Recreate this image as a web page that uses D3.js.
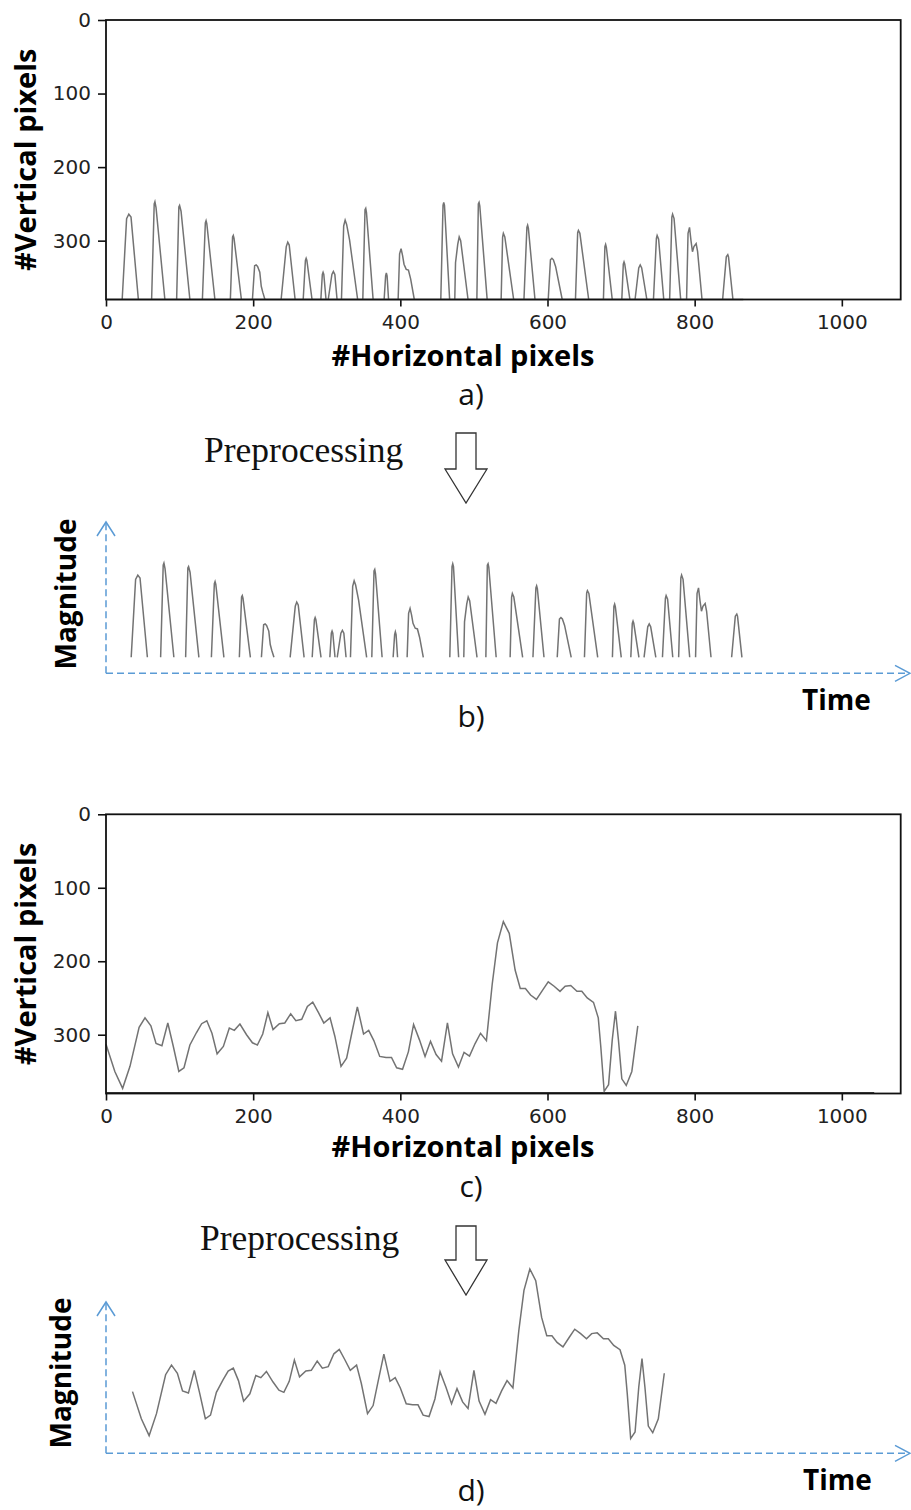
<!DOCTYPE html>
<html>
<head>
<meta charset="utf-8">
<script src="https://cdn.jsdelivr.net/npm/d3@7"></script>
<style>
  body { margin: 0; background: #fff; }
</style>
</head>
<body>
<svg width="911" height="1510"></svg>
<script>
// ticks of the two pixel plots
const xTicks = [0, 200, 400, 600, 800, 1000];
const yTicks = [0, 100, 200, 300];
const baseLevel = 380;
const baselineEndA = 866;
const baselineEndC = 1044;

// a) peaks, [horizontal px, vertical px]
const peaks = [
  [[22,380],[28,270],[31,264],[34,268],[44,380]],
  [[62,380],[65.5,250],[66.5,247],[68,255],[80,380]],
  [[96,380],[99,254],[100,252],[102,260],[114,380]],
  [[131,380],[135,276],[136,273],[137,277],[148,380]],
  [[169,380],[172,295],[173,293],[174,297],[184,380]],
  [[199,380],[202,334],[204,333],[206,335],[209,343],[211,362],[213,370],[216,380]],
  [[238,380],[245,308],[247,302],[249,306],[257,380]],
  [[268,380],[271,327],[272,324],[273,327],[280,380]],
  [[292,380],[294,346],[295,343],[296,346],[299,380]],
  [[302,380],[307,346],[309,342],[311,346],[314,380]],
  [[320,380],[323,280],[325,272],[327,278],[331,299],[342,380]],
  [[349,380],[352,258],[353,256],[354,262],[363,380]],
  [[378,380],[380,348],[381,344],[382,348],[384,380]],
  [[397,380],[399,318],[401,311],[403,320],[405,332],[408,339],[411,340],[414,352],[419,380]],
  [[455,380],[458,252],[459,248],[460,252],[467,380]],
  [[474,380],[475,330],[478,305],[480,295],[482,300],[492,380]],
  [[504,380],[506,250],[507,248],[508,253],[518,380]],
  [[537,380],[539,295],[540,290],[542,295],[554,380]],
  [[568,380],[572,282],[573,279],[574,283],[583,380]],
  [[601,380],[604,326],[606,324],[608,326],[611,335],[620,380]],
  [[638,380],[641,289],[642,286],[644,290],[656,380]],
  [[676,380],[678,308],[679,305],[680,309],[688,380]],
  [[701,380],[703,332],[704,329],[705,332],[712,380]],
  [[719,380],[724,337],[726,333],[728,337],[735,380]],
  [[744,380],[748,297],[749,293],[751,298],[758,380]],
  [[766,380],[769,268],[770,264],[772,270],[781,380]],
  [[789,380],[791,290],[793,282],[795,300],[797,315],[799,308],[802,304],[804,315],[810,380]],
  [[838,380],[843,322],[845,319],[846,322],[852,380]]
];

// c) contour trace
const trace = [
  [0,313],[12,350],[22.6,373],[32.6,343],[45,290],[53,277],[61,288],[68,312],[76,315],
  [84,284],[91.5,316],[99,350],[106,345],[114,314],[123,297],[130,285],[137,281],[144,298],
  [151,326],[159.5,316],[167.6,291],[174.4,294],[182,285.5],[191,300],[199,311],[205.7,314],
  [213,299],[220,270],[227,293],[235.6,285],[243,284],[251,271.5],[258,281],[266,279],
  [273.7,261.5],[281,255.6],[288.6,269.6],[296,284],[304.5,277],[311,302],[319.4,343],
  [327,332],[334,298],[341.6,262],[350,299],[357,294],[364,308],[372,329.5],[380.6,331],
  [388,331],[395,345],[403,347],[411,323],[418,286],[426,307],[433.6,329.5],[441,309],
  [448.6,327],[456,336],[464,284],[471,326],[479,344],[486.6,324],[494,329],[501.6,312],
  [509,298],[517,308],[525,230],[532,175],[540,146],[548,162],[556,212],[563,237],[570,237],
  [577,246],[585,252],[593.6,239],[601,228],[609,234],[617,241],[624,234],[631.6,233],
  [640,241],[646.6,241],[654,250],[662.5,256],[669,277],[672.4,316],[677,377],[683,368],
  [688,307],[692.4,268],[696.4,307],[701,360],[707,369],[714.6,350],[722.7,288]
];

const svg = d3.select('svg');
svg.append('rect').attr('width', 911).attr('height', 1510).attr('fill', '#fff');

const lineColor = '#737373';
const blue = '#5b9bd5';
const boldFont = '"Open Sans", sans-serif';

function pixelPlot(top, bottom, xLabelY) {
  const x = d3.scaleLinear().domain([0, 1080]).range([106, 900.7]);
  const y = d3.scaleLinear().domain([0, 380]).range([top, bottom]);
  const g = svg.append('g');

  const ax = g.append('g')
    .attr('transform', `translate(0,${bottom})`)
    .call(d3.axisBottom(x).tickValues(xTicks).tickFormat(d3.format('d')).tickSize(7).tickPadding(8));
  const ay = g.append('g')
    .attr('transform', 'translate(106,0)')
    .call(d3.axisLeft(y).tickValues(yTicks).tickFormat(d3.format('d')).tickSize(8).tickPadding(7));
  [ax, ay].forEach(a => {
    a.select('.domain').remove();
    a.selectAll('line').attr('stroke', '#111').attr('stroke-width', 1.6);
    a.selectAll('text')
      .attr('font-family', '"DejaVu Sans", sans-serif')
      .attr('font-size', 20)
      .attr('fill', '#222');
  });

  g.append('text')
    .attr('transform', `translate(36,${(top + bottom) / 2}) rotate(-90)`)
    .attr('text-anchor', 'middle')
    .attr('font-family', boldFont)
    .attr('font-weight', 'bold')
    .attr('font-size', 29)
    .text('#Vertical pixels');
  g.append('text')
    .attr('x', 463).attr('y', xLabelY)
    .attr('text-anchor', 'middle')
    .attr('font-family', boldFont)
    .attr('font-weight', 'bold')
    .attr('font-size', 29)
    .text('#Horizontal pixels');
  return { g, x, y };
}

function frame(p) {
  const [x0, x1] = p.x.range();
  const [y0, y1] = p.y.range();
  p.g.append('rect')
    .attr('x', x0).attr('y', y0)
    .attr('width', x1 - x0).attr('height', y1 - y0)
    .attr('fill', 'none').attr('stroke', '#111').attr('stroke-width', 1.8);
}

function dashedAxes(axisX, axisY, topY, rightX) {
  const g = svg.append('g').attr('stroke', blue).attr('fill', 'none').attr('stroke-width', 1.5);
  g.append('line').attr('x1', axisX).attr('x2', axisX).attr('y1', axisY).attr('y2', topY + 1)
    .attr('stroke-dasharray', '7,4');
  g.append('line').attr('x1', axisX).attr('x2', rightX - 1).attr('y1', axisY).attr('y2', axisY)
    .attr('stroke-dasharray', '7,4');
  g.append('path').attr('d', `M${axisX - 9},${topY + 14}L${axisX},${topY}L${axisX + 9},${topY + 14}`);
  g.append('path').attr('d', `M${rightX - 15},${axisY - 8}L${rightX},${axisY}L${rightX - 15},${axisY + 8}`);
}

function blockArrow(cx, top, shoulder, tip) {
  const d = `M${cx - 10},${top}H${cx + 10}V${shoulder}H${cx + 21}L${cx},${tip}L${cx - 21},${shoulder}H${cx - 10}Z`;
  svg.append('path').attr('d', d)
    .attr('fill', '#fff').attr('stroke', '#333').attr('stroke-width', 1.3);
}

function caption(txt, x, y) {
  svg.append('text').attr('x', x).attr('y', y)
    .attr('text-anchor', 'middle')
    .attr('font-family', boldFont)
    .attr('font-size', 30)
    .attr('fill', '#111')
    .text(txt);
}

function serifLabel(x, y) {
  svg.append('text').attr('x', x).attr('y', y)
    .attr('font-family', '"Liberation Serif", serif')
    .attr('font-size', 35.5)
    .attr('fill', '#111')
    .text('Preprocessing');
}

function magnitudeLabels(lx, ly, tx, ty) {
  svg.append('text')
    .attr('transform', `translate(${lx},${ly}) rotate(-90)`)
    .attr('text-anchor', 'middle')
    .attr('font-family', boldFont).attr('font-weight', 'bold').attr('font-size', 28)
    .text('Magnitude');
  svg.append('text').attr('x', tx).attr('y', ty)
    .attr('font-family', boldFont).attr('font-weight', 'bold').attr('font-size', 28)
    .text('Time');
}

// ---- a) ----
const pa = pixelPlot(20, 299.5, 366);
const la = d3.line().x(d => pa.x(d[0])).y(d => pa.y(d[1]));
pa.g.append('path').datum([[0, baseLevel], [baselineEndA, baseLevel]])
  .attr('d', la).attr('fill', 'none').attr('stroke', lineColor).attr('stroke-width', 1.5);
pa.g.selectAll('.peak').data(peaks).join('path')
  .attr('class', 'peak')
  .attr('d', la).attr('fill', 'none').attr('stroke', lineColor).attr('stroke-width', 1.5);
frame(pa);
caption('a)', 471, 405);

// ---- b) ----
serifLabel(204, 462);
blockArrow(466, 433, 469, 503);
const xb = d3.scaleLinear().domain([0, 1080]).range([115, 909.7]);
const yb = d3.scaleLinear().domain([0, 380]).range([388, 657.3]);
const lb = d3.line().x(d => xb(d[0])).y(d => yb(d[1]));
dashedAxes(106, 673.3, 522, 910);
svg.append('g').selectAll('path').data(peaks).join('path')
  .attr('d', lb).attr('fill', 'none').attr('stroke', lineColor).attr('stroke-width', 1.5);
magnitudeLabels(76, 594, 802, 710);
caption('b)', 471, 727);

// ---- c) ----
const pc = pixelPlot(814.3, 1093.5, 1157);
const lc = d3.line().x(d => pc.x(d[0])).y(d => pc.y(d[1]));
pc.g.append('path').datum([[0, baseLevel - 1], [baselineEndC, baseLevel - 1]])
  .attr('d', lc).attr('fill', 'none').attr('stroke', '#444').attr('stroke-width', 1.4);
pc.g.append('path').datum(trace)
  .attr('d', lc).attr('fill', 'none').attr('stroke', lineColor).attr('stroke-width', 1.5);
frame(pc);
caption('c)', 471, 1197);

// ---- d) ----
serifLabel(200, 1250);
blockArrow(466, 1226, 1260, 1295);
const xd = d3.scaleLinear().domain([0, 1080]).range([132.5, 927.2]);
const yd = d3.scaleLinear().domain([0, 380]).range([1161.8, 1440.8]);
const ld = d3.line().x(d => xd(d[0])).y(d => yd(d[1]));
dashedAxes(106, 1453.3, 1302, 910);
svg.append('path').datum(trace)
  .attr('d', ld).attr('fill', 'none').attr('stroke', lineColor).attr('stroke-width', 1.5);
magnitudeLabels(71, 1373, 803, 1490);
caption('d)', 471, 1501);
</script>
</body>
</html>
